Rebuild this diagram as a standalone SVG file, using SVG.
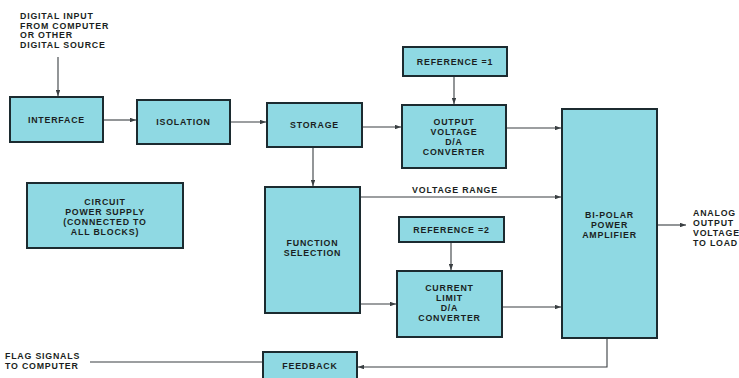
<svg xmlns="http://www.w3.org/2000/svg" width="739" height="378" viewBox="0 0 739 378">
<defs>
<style>
.box{fill:#8fd9e3;stroke:#1c2b30;stroke-width:2}
.t{font-family:"Liberation Sans",Arial,sans-serif;font-weight:bold;font-size:8.8px;letter-spacing:0.8px;fill:#1a1f22;text-anchor:middle}
.l{text-anchor:start}
.c{fill:none;stroke:#3a3f42;stroke-width:1.1}
</style>
<marker id="a" viewBox="0 0 8 6" refX="8" refY="3" markerWidth="6" markerHeight="4.5" orient="auto" markerUnits="userSpaceOnUse">
<path d="M0,0 L8,3 L0,6 z" fill="#3a3f42"/>
</marker>
</defs>
<rect width="739" height="378" fill="#ffffff"/>
<g id="connectors">
<path class="c" d="M58,57 V96" marker-end="url(#a)"/>
<path class="c" d="M104,120 H136" marker-end="url(#a)"/>
<path class="c" d="M231,122 H266" marker-end="url(#a)"/>
<path class="c" d="M363,127 H401" marker-end="url(#a)"/>
<path class="c" d="M454,77 V104" marker-end="url(#a)"/>
<path class="c" d="M507,128 H561" marker-end="url(#a)"/>
<path class="c" d="M313,148 V186" marker-end="url(#a)"/>
<path class="c" d="M361,197 H561" marker-end="url(#a)"/>
<path class="c" d="M451,243 V270" marker-end="url(#a)"/>
<path class="c" d="M361,304 H396" marker-end="url(#a)"/>
<path class="c" d="M503,307 H561" marker-end="url(#a)"/>
<path class="c" d="M658,225 H686" marker-end="url(#a)"/>
<path class="c" d="M607,339 V367 H358" marker-end="url(#a)"/>
<path class="c" d="M262,362 H90"/>
<text class="t" x="455" y="193">VOLTAGE RANGE</text>
</g>
<g id="input-label">
<text class="t l" x="20" y="19">DIGITAL INPUT</text>
<text class="t l" x="20" y="29">FROM COMPUTER</text>
<text class="t l" x="20" y="38">OR OTHER</text>
<text class="t l" x="20" y="48">DIGITAL SOURCE</text>
</g>
<g id="interface"><rect class="box" x="10" y="97" width="93" height="45"/><text class="t" x="56.5" y="123">INTERFACE</text></g>
<g id="isolation"><rect class="box" x="137" y="100" width="93" height="44"/><text class="t" x="183.5" y="125">ISOLATION</text></g>
<g id="storage"><rect class="box" x="267" y="103" width="95" height="44"/><text class="t" x="314.5" y="128">STORAGE</text></g>
<g id="reference1"><rect class="box" x="403" y="47" width="104" height="29"/><text class="t" x="455" y="65">REFERENCE =1</text></g>
<g id="output-da"><rect class="box" x="402" y="105" width="104" height="63"/>
<text class="t" x="454" y="125">OUTPUT</text><text class="t" x="454" y="135">VOLTAGE</text><text class="t" x="454" y="145">D/A</text><text class="t" x="454" y="155">CONVERTER</text></g>
<g id="power-supply"><rect class="box" x="27" y="183" width="156" height="65"/>
<text class="t" x="105" y="205">CIRCUIT</text><text class="t" x="105" y="215">POWER SUPPLY</text><text class="t" x="105" y="225">(CONNECTED TO</text><text class="t" x="105" y="235">ALL BLOCKS)</text></g>
<g id="function-selection"><rect class="box" x="265" y="187" width="95" height="126"/>
<text class="t" x="312.5" y="246">FUNCTION</text><text class="t" x="312.5" y="256">SELECTION</text></g>
<g id="reference2"><rect class="box" x="399" y="217" width="105" height="25"/><text class="t" x="451.5" y="233">REFERENCE =2</text></g>
<g id="current-da"><rect class="box" x="397" y="271" width="105" height="66"/>
<text class="t" x="449.5" y="291">CURRENT</text><text class="t" x="449.5" y="301">LIMIT</text><text class="t" x="449.5" y="311">D/A</text><text class="t" x="449.5" y="321">CONVERTER</text></g>
<g id="amplifier"><rect class="box" x="562" y="109" width="95" height="229"/>
<text class="t" x="609.5" y="218">BI-POLAR</text><text class="t" x="609.5" y="228">POWER</text><text class="t" x="609.5" y="238">AMPLIFIER</text></g>
<g id="output-label">
<text class="t l" x="693" y="216">ANALOG</text><text class="t l" x="693" y="226">OUTPUT</text><text class="t l" x="693" y="236">VOLTAGE</text><text class="t l" x="693" y="246">TO LOAD</text></g>
<g id="feedback"><rect class="box" x="263" y="352" width="94" height="27"/><text class="t" x="310" y="369">FEEDBACK</text></g>
<g id="flag-label"><text class="t l" x="5" y="359">FLAG SIGNALS</text><text class="t l" x="5" y="369">TO COMPUTER</text></g>
</svg>
